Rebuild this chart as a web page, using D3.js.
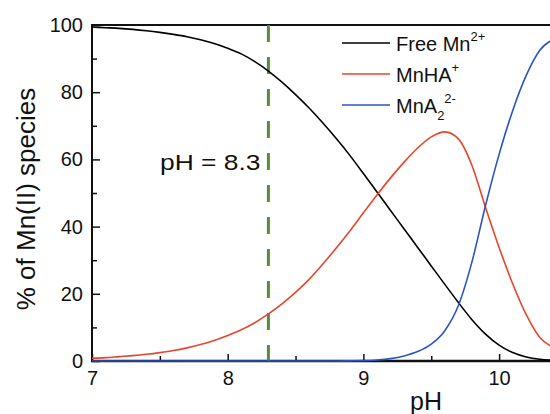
<!DOCTYPE html>
<html>
<head>
<meta charset="utf-8">
<script src="https://cdn.jsdelivr.net/npm/d3@7"></script>
<style>
  body { margin: 0; background: #fff; }
  svg { display: block; font-family: "Liberation Sans", Arial, sans-serif; }
</style>
</head>
<body>
<div id="chart"></div>
<script>
// pH grid and % of Mn(II) species
var pH = [7.0, 7.1, 7.2, 7.3, 7.4, 7.5, 7.6, 7.7, 7.8, 7.9,
          8.0, 8.1, 8.2, 8.3, 8.4, 8.5, 8.6, 8.7, 8.8, 8.9,
          9.0, 9.1, 9.2, 9.3, 9.4, 9.5, 9.6, 9.7, 9.8, 9.9,
          10.0, 10.1, 10.2, 10.3, 10.4, 10.5];
var freeMn = [99.4, 99.2, 99.0, 98.7, 98.3, 97.8, 97.2, 96.5, 95.6, 94.5,
              93.1, 91.4, 89.1, 86.3, 83.0, 79.3, 75.3, 70.9, 66.2, 61.2,
              55.8, 50.3, 44.8, 39.3, 33.8, 28.3, 22.8, 17.4, 12.3, 8.0,
              4.7, 2.5, 1.2, 0.5, 0.2, 0.1];
var mnHA = [0.8, 1.0, 1.3, 1.6, 2.0, 2.5, 3.1, 3.9, 4.9, 6.1,
            7.6, 9.3, 11.4, 14.0, 17.0, 20.4, 24.3, 28.8, 33.6, 38.7,
            44.1, 49.4, 54.5, 59.2, 63.4, 66.7, 68.2, 66.1, 58.2, 45.7,
            33.8, 23.0, 13.8, 7.0, 4.0, 1.9];
var mnA2 = [0, 0, 0, 0, 0, 0, 0, 0, 0, 0,
            0, 0, 0, 0, 0, 0, 0, 0, 0, 0.05,
            0.1, 0.3, 0.7, 1.5, 2.8, 5.0, 9.0, 16.5, 29.5, 46.3,
            61.5, 74.5, 85.0, 92.5, 95.8, 98.0];

var xMajor = [7, 8, 9, 10];
var xMinor = [7.5, 8.5, 9.5, 10.5];
var yMajor = [0, 20, 40, 60, 80, 100];
var yMinor = [10, 30, 50, 70, 90];
var markerPH = 8.3;

var series = [
  {name: 'Free Mn', sup: '2+', sub: '', values: freeMn, color: '#000000'},
  {name: 'MnHA', sup: '+', sub: '', values: mnHA, color: '#e8452c'},
  {name: 'MnA', sup: '2-', sub: '2', values: mnA2, color: '#2a55c0'}
];

var W = 550, H = 414;
var svg = d3.select('#chart').append('svg').attr('width', W).attr('height', H);

// plot runs past the right edge of the picture (cropped)
var x = d3.scaleLinear().domain([7, 11]).range([92, 634.8]);
var y = d3.scaleLinear().domain([0, 100]).range([361, 25]);

function styleAxis(g) {
  g.select('.domain').remove();
  g.selectAll('line').attr('stroke', '#111').attr('stroke-width', 1.5);
  g.selectAll('text').attr('fill', '#111').style('font-size', '20px')
    .style('font-family', '"Liberation Sans", Arial, sans-serif');
}

// frame lines
svg.append('line').attr('x1', 92).attr('x2', W).attr('y1', y(100)).attr('y2', y(100))
  .attr('stroke', '#111').attr('stroke-width', 2);
svg.append('line').attr('x1', 92).attr('x2', 92).attr('y1', y(100) - 1).attr('y2', y(0))
  .attr('stroke', '#111').attr('stroke-width', 2);

// axes, ticks pointing inward
var fmt = d3.format('d');
svg.append('g').attr('transform', 'translate(92,0)')
  .call(d3.axisLeft(y).tickValues(yMajor).tickFormat(fmt).tickSize(-8).tickPadding(9)).call(styleAxis);
svg.append('g').attr('transform', 'translate(92,0)')
  .call(d3.axisLeft(y).tickValues(yMinor).tickSize(-5).tickFormat('')).call(styleAxis);
svg.append('g').attr('transform', 'translate(0,361)')
  .call(d3.axisBottom(x).tickValues(xMajor).tickFormat(fmt).tickSize(-7).tickPadding(10)).call(styleAxis);
svg.append('g').attr('transform', 'translate(0,361)')
  .call(d3.axisBottom(x).tickValues(xMinor).tickSize(-5).tickFormat('')).call(styleAxis);

svg.append('line').attr('x1', 91).attr('x2', W).attr('y1', y(0)).attr('y2', y(0))
  .attr('stroke', '#111').attr('stroke-width', 2.5);

// marker at pH 8.3
svg.append('line')
  .attr('x1', x(markerPH)).attr('x2', x(markerPH))
  .attr('y1', y(100)).attr('y2', y(0))
  .attr('stroke', '#5b8c3c').attr('stroke-width', 3)
  .attr('stroke-dasharray', '17,15');

svg.append('text')
  .attr('transform', 'translate(160,170) scale(1.2,1)')
  .style('font-size', '22px').attr('fill', '#111')
  .text('pH = ' + markerPH);

// curves
var line = d3.line()
  .x(function(d) { return x(d[0]); })
  .y(function(d) { return y(d[1]); })
  .curve(d3.curveMonotoneX);

series.forEach(function(s) {
  svg.append('path')
    .datum(pH.map(function(p, i) { return [p, s.values[i]]; }))
    .attr('fill', 'none')
    .attr('stroke', s.color)
    .attr('stroke-width', 1.6)
    .attr('d', line);
});

// legend
var legend = svg.append('g');
series.forEach(function(s, i) {
  var ly = 43 + i * 31;
  legend.append('line').attr('x1', 342).attr('x2', 390).attr('y1', ly).attr('y2', ly)
    .attr('stroke', s.color).attr('stroke-width', 1.6);
  var t = legend.append('text').attr('x', 396).attr('y', ly + 8)
    .style('font-size', '20px').attr('fill', '#111');
  t.append('tspan').text(s.name);
  if (s.sub) {
    t.append('tspan').attr('dy', 7).style('font-size', '13px').text(s.sub);
    t.append('tspan').attr('dy', -17).style('font-size', '13px').text(s.sup);
  } else {
    t.append('tspan').attr('dy', -10).style('font-size', '13px').text(s.sup);
  }
});

// axis titles
svg.append('text')
  .attr('transform', 'translate(35,' + ((y(0) + y(100)) / 2 + 6) + ') rotate(-90)')
  .attr('text-anchor', 'middle')
  .style('font-size', '26px').attr('fill', '#111')
  .text('% of Mn(II) species');

svg.append('text')
  .attr('x', 426).attr('y', 410)
  .attr('text-anchor', 'middle')
  .style('font-size', '25px').attr('fill', '#111')
  .text('pH');
</script>
</body>
</html>
